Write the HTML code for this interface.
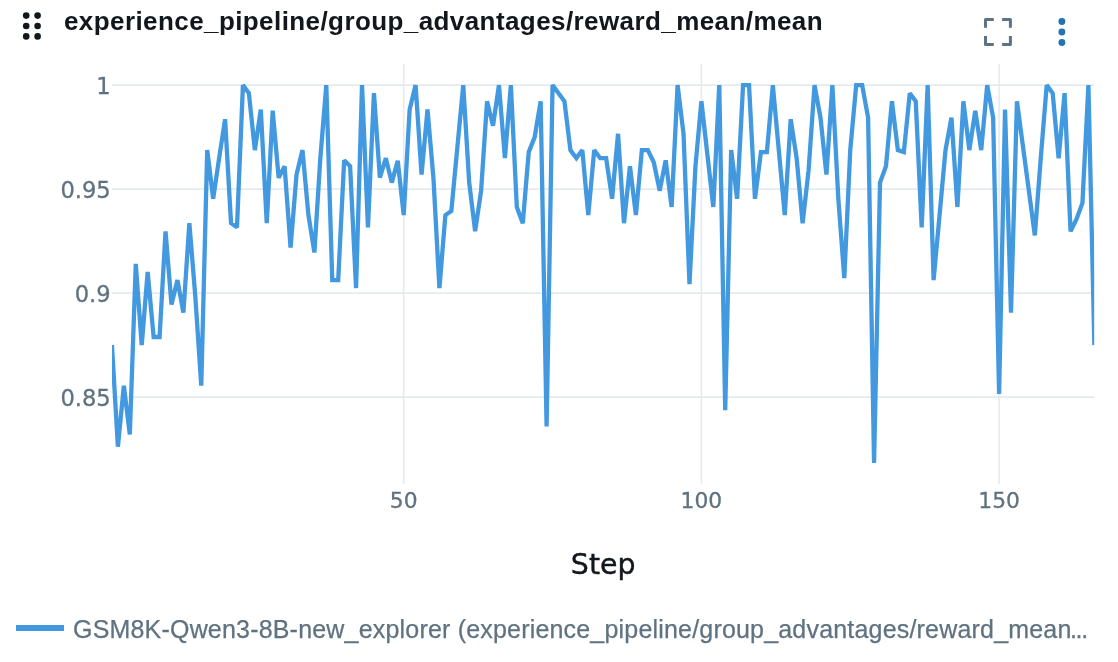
<!DOCTYPE html>
<html><head><meta charset="utf-8"><title>chart</title>
<style>
html,body{margin:0;padding:0;background:#fff;}
body{width:1118px;height:662px;overflow:hidden;position:relative;font-family:"Liberation Sans",sans-serif;}
.title{position:absolute;left:64px;top:6px;font-weight:bold;font-size:26px;color:#11171c;white-space:nowrap;letter-spacing:0.415px;line-height:30px;}
.legend{position:absolute;left:73px;top:613.6px;-webkit-text-stroke:0.25px #5f7281;font-size:25px;color:#5f7281;white-space:nowrap;line-height:30px;letter-spacing:0.19px;}
.legend span{letter-spacing:-1.35px;margin-left:-1.6px;}
svg{position:absolute;left:0;top:0;}
.tick{font-family:"DejaVu Sans","Liberation Sans",sans-serif;font-size:22.6px;fill:#5f7281;stroke:#5f7281;stroke-width:0.3px;}
.xt{font-family:"DejaVu Sans","Liberation Sans",sans-serif;font-size:28.4px;fill:#11171c;stroke:#11171c;stroke-width:0.4px;}
</style></head><body>
<svg width="1118" height="662" viewBox="0 0 1118 662">
<g fill="#11171c">
<circle cx="26.2" cy="15.6" r="3.3"/><circle cx="37.6" cy="15.6" r="3.3"/>
<circle cx="26.2" cy="26" r="3.3"/><circle cx="37.6" cy="26" r="3.3"/>
<circle cx="26.2" cy="36.4" r="3.3"/><circle cx="37.6" cy="36.4" r="3.3"/>
</g>
<g fill="none" stroke="#5f7281" stroke-width="3" stroke-linejoin="round">
<path d="M985.5,27.75 V19.6 H993.75"/><path d="M1002.1,19.6 H1010.4 V27.75"/>
<path d="M985.5,36 V44.4 H993.75"/><path d="M1002.1,44.4 H1010.4 V36"/>
</g>
<g fill="#2272b4"><circle cx="1061.9" cy="21.5" r="3.45"/><circle cx="1061.9" cy="32" r="3.45"/><circle cx="1061.9" cy="42.5" r="3.45"/></g>
<g stroke="#e6eaef" stroke-width="1.6" fill="none">
<path d="M112,85.1 H1094.2"/><path d="M112,189.1 H1094.2"/><path d="M112,293.1 H1094.2"/><path d="M112,397.1 H1094.2"/>
<path d="M403.7,64 V484"/><path d="M701.4,64 V484"/><path d="M999.1,64 V484"/>
</g>
<clipPath id="c"><rect x="112" y="64" width="982.2" height="419.5"/></clipPath>
<polyline clip-path="url(#c)" points="111.95,345.1 117.90,446.7 123.86,385.7 129.81,434.5 135.77,263.9 141.72,345.1 147.67,272.0 153.63,337.0 159.58,337.0 165.54,231.3 171.49,304.5 177.44,280.1 183.40,312.6 189.35,223.2 195.31,296.4 201.26,385.7 207.21,150.1 213.17,198.8 219.12,158.2 225.08,119.2 231.03,223.2 236.98,227.3 242.94,85.1 248.89,93.2 254.85,150.1 260.80,109.5 266.75,223.2 272.71,110.7 278.66,177.7 284.62,166.3 290.57,247.6 296.52,174.5 302.48,150.1 308.43,215.1 314.39,252.5 320.34,158.2 326.29,85.1 332.25,280.1 338.20,280.1 344.16,160.3 350.11,166.3 356.06,288.2 362.02,85.1 367.97,227.3 373.93,93.2 379.88,177.7 385.83,158.2 391.79,182.6 397.74,160.7 403.70,215.1 409.65,109.5 415.60,85.1 421.56,174.5 427.51,109.5 433.47,178.5 439.42,288.2 445.37,215.1 451.33,211.0 457.28,148.1 463.24,85.1 469.19,182.6 475.14,231.3 481.10,190.7 487.05,101.3 493.01,125.7 498.96,85.1 504.91,158.2 510.87,85.1 516.82,207.0 522.78,223.2 528.73,152.1 534.68,137.1 540.64,101.3 546.59,426.4 552.55,85.1 558.50,93.2 564.45,101.3 570.41,150.1 576.36,158.2 582.32,150.1 588.27,215.1 594.22,150.1 600.18,158.2 606.13,158.2 612.09,198.8 618.04,133.8 623.99,223.2 629.95,166.3 635.90,215.1 641.86,150.1 647.81,150.1 653.76,162.3 659.72,190.7 665.67,160.3 671.63,207.0 677.58,85.1 683.53,133.8 689.49,284.2 695.44,166.3 701.40,101.3 707.35,154.2 713.30,207.0 719.26,85.1 725.21,410.1 731.17,150.1 737.12,198.8 743.07,85.1 749.03,85.1 754.98,198.8 760.94,152.1 766.89,152.1 772.84,85.1 778.80,150.1 784.75,215.1 790.71,119.2 796.66,158.2 802.61,223.2 808.57,170.4 814.52,85.1 820.48,117.6 826.43,174.5 832.38,85.1 838.34,198.8 844.29,278.1 850.25,150.1 856.20,85.1 862.15,85.1 868.11,117.6 874.06,462.9 880.02,182.6 885.97,166.3 891.92,101.3 897.88,150.1 903.83,152.1 909.79,93.2 915.74,101.3 921.69,227.3 927.65,85.1 933.60,280.1 939.56,215.1 945.51,150.1 951.46,117.6 957.42,207.0 963.37,101.3 969.33,150.1 975.28,110.7 981.23,150.1 987.19,85.1 993.14,117.6 999.10,393.9 1005.05,109.5 1011.00,312.6 1016.96,101.3 1022.91,146.0 1028.87,190.7 1034.82,235.4 1040.77,158.2 1046.73,85.1 1052.68,93.2 1058.64,158.2 1064.59,93.2 1070.54,231.3 1076.50,219.2 1082.45,202.9 1088.41,85.1 1094.36,345.1" fill="none" stroke="#4299e0" stroke-width="4.3" stroke-linejoin="miter" stroke-miterlimit="2" stroke-linecap="butt"/>
<g class="tick" text-anchor="end">
<text x="110.7" y="93.5">1</text><text x="110.7" y="197.5">0.95</text><text x="110.7" y="301.5">0.9</text><text x="110.7" y="405.5">0.85</text>
</g>
<g class="tick" text-anchor="middle" style="font-size:21.8px">
<text x="403.7" y="508.3">50</text><text x="701.4" y="508.3">100</text><text x="999.1" y="508.3">150</text>
</g>
<text class="xt" x="603.2" y="574.4" text-anchor="middle">Step</text>
<path d="M16,628 H64" stroke="#4299e0" stroke-width="6" fill="none"/>
</svg>
<div class="title">experience_pipeline/group_advantages/reward_mean/mean</div>
<div class="legend">GSM8K-Qwen3-8B-new_explorer (experience_pipeline/group_advantages/reward_mean<span>...</span></div>
</body></html>
